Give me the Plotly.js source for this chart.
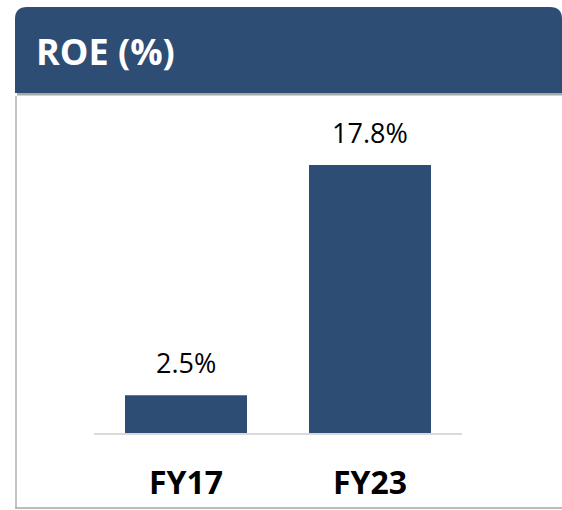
<!DOCTYPE html>
<html>
<head>
<meta charset="utf-8">
<script src="https://cdn.plot.ly/plotly-3.0.1.min.js"></script>
<style>
  html, body { margin: 0; padding: 0; background: #ffffff; }
  #chart { width: 562px; height: 510px; }
</style>
</head>
<body>
<div id="chart"></div>
<script>
// ---- Data ----
const categories = ["FY17", "FY23"];
const roeValues = [2.5, 17.8];
const chartTitle = "ROE (%)";

// ---- Layout geometry helpers (pixel -> paper) ----
const W = 562, H = 510;
const M = { l: 94, r: 100, t: 110, b: 77 };
const PW = W - M.l - M.r, PH = H - M.t - M.b;
const fx = px => (px - M.l) / PW;
const fy = py => (H - M.b - py) / PH;

const BLUE = "#2E4D74";
const FONT = "Open Sans, Noto Sans, Liberation Sans, sans-serif";

// Header band with rounded top corners
const hx0 = 15, hx1 = 562, hy0 = 7, hy1 = 93, rad = 12;
const headerPath =
  `M ${fx(hx0)},${fy(hy1)} L ${fx(hx0)},${fy(hy0 + rad)} ` +
  `Q ${fx(hx0)},${fy(hy0)} ${fx(hx0 + rad)},${fy(hy0)} ` +
  `L ${fx(hx1 - rad)},${fy(hy0)} Q ${fx(hx1)},${fy(hy0)} ${fx(hx1)},${fy(hy0 + rad)} ` +
  `L ${fx(hx1)},${fy(hy1)} Z`;

const shapes = [
  // shadow under header
  { type: "rect", xref: "paper", yref: "paper", x0: fx(17), x1: fx(562), y0: fy(96), y1: fy(93),
    fillcolor: "#d4d4d4", line: { width: 0 }, layer: "below" },
  { type: "rect", xref: "paper", yref: "paper", x0: fx(17), x1: fx(562), y0: fy(95), y1: fy(93),
    fillcolor: "#a8a8a8", line: { width: 0 }, layer: "below" },
  // header
  { type: "path", xref: "paper", yref: "paper", path: headerPath,
    fillcolor: BLUE, line: { width: 0 }, layer: "below" },
  // panel left border
  { type: "line", xref: "paper", yref: "paper", x0: fx(16), x1: fx(16), y0: fy(96), y1: fy(508),
    line: { color: "#c4c4c4", width: 2 } },
  // panel bottom border
  { type: "line", xref: "paper", yref: "paper", x0: fx(15), x1: fx(562), y0: fy(508), y1: fy(508),
    line: { color: "#a6a6a6", width: 1.5 } }
];

const annotations = categories.map((c, i) => ({
  x: c, y: roeValues[i], xref: "x", yref: "y",
  text: roeValues[i].toFixed(1) + "%",
  showarrow: false, yanchor: "bottom", yshift: 12,
  font: { family: FONT, size: 27, color: "#000000" }
}));

const trace = {
  type: "bar",
  x: categories,
  y: roeValues,
  marker: { color: BLUE, line: { width: 0 } },
  hoverinfo: "none"
};

const layout = {
  width: W, height: H,
  margin: M,
  paper_bgcolor: "#ffffff",
  plot_bgcolor: "#ffffff",
  showlegend: false,
  bargap: 0.337,
  title: {
    text: "<b>" + chartTitle + "</b>",
    xref: "container", yref: "container",
    x: 36 / W, xanchor: "left",
    y: 1 - 52 / H, yanchor: "middle",
    font: { family: FONT, size: 36, color: "#ffffff" }
  },
  xaxis: {
    type: "category",
    showline: true, linecolor: "#d9d9d9", linewidth: 2,
    ticks: "", showgrid: false, zeroline: false,
    ticklabelstandoff: 21,
    tickfont: { family: FONT, size: 32, color: "#000000", weight: "bold" },
    fixedrange: true
  },
  yaxis: {
    range: [0, 21.45],
    visible: false, showgrid: false, zeroline: false, fixedrange: true
  },
  shapes: shapes,
  annotations: annotations
};

Plotly.newPlot("chart", [trace], layout, { displayModeBar: false, staticPlot: true });
</script>
</body>
</html>
